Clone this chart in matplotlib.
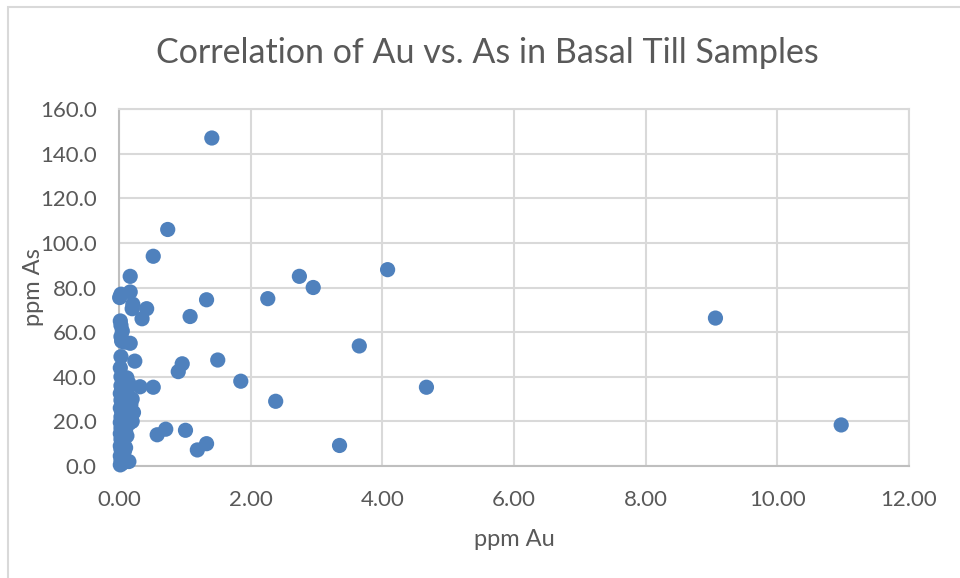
import matplotlib
matplotlib.use("Agg")
import matplotlib.pyplot as plt
from matplotlib.patches import Rectangle

# ---- data (ppm Au, ppm As) ----
au_outer = [1.41, 0.74, 0.52, 0.17, 0.17, 0.03, 0.01, 0.21, 0.20, 0.42, 0.35, 1.08,
            1.33, 2.26, 2.74, 2.95, 4.08, 9.06, 10.97, 4.67, 3.65, 3.35, 2.38, 1.85,
            1.50, 0.96, 0.90, 1.01, 1.33, 1.19, 0.71, 0.58, 0.52, 0.32, 0.24, 0.17]
as_outer = [147.0, 106.0, 94.0, 85.0, 78.0, 77.0, 75.5, 72.5, 70.5, 70.5, 66.0, 67.0,
            74.5, 75.0, 85.0, 80.0, 88.0, 66.3, 18.4, 35.3, 53.8, 9.2, 29.0, 38.0,
            47.5, 45.8, 42.3, 16.0, 10.0, 7.2, 16.5, 14.0, 35.3, 35.5, 47.0, 55.0]

au_cluster = [0.02, 0.05, 0.03, 0.15, 0.06, 0.02, 0.04, 0.08, 0.03, 0.10, 0.02, 0.05,
              0.07, 0.03, 0.12, 0.04, 0.02, 0.10, 0.06, 0.03, 0.08, 0.15, 0.02, 0.05,
              0.20, 0.10, 0.03, 0.17, 0.07, 0.22, 0.04, 0.12, 0.02, 0.08, 0.18, 0.05,
              0.03, 0.20, 0.10, 0.06, 0.02, 0.12, 0.04, 0.08, 0.03, 0.15, 0.06, 0.12,
              0.03, 0.02, 0.03, 0.04, 0.08, 0.03, 0.05, 0.03, 0.02]
as_cluster = [0.5, 1.2, 2.5, 2.0, 3.5, 4.5, 5.5, 6.5, 7.5, 8.2, 9.0, 10.0,
              11.0, 12.0, 13.5, 13.0, 14.5, 15.5, 16.0, 17.0, 18.0, 19.0, 19.5, 20.5,
              20.0, 21.0, 22.0, 22.5, 23.0, 24.0, 24.5, 25.5, 26.0, 27.0, 27.5, 28.5,
              29.5, 30.0, 30.5, 31.5, 32.5, 33.0, 34.0, 35.0, 36.0, 37.0, 38.0, 39.5,
              40.0, 44.0, 49.0, 56.0, 55.5, 58.0, 60.5, 63.0, 65.0]

x_ticks = [0, 2, 4, 6, 8, 10, 12]
y_ticks = [0, 20, 40, 60, 80, 100, 120, 140, 160]

title = "Correlation of Au vs. As in Basal Till Samples"
x_label = "ppm Au"
y_label = "ppm As"

# ---- style ----
plt.rcParams['font.family'] = ['Lato', 'DejaVu Sans']
text_col = "#595959"
grid_col = "#d9d9d9"
axis_col = "#bfbfbf"
dot_col = "#4f81bd"

fig = plt.figure(figsize=(9.6, 5.78), dpi=100)
fig.patch.set_facecolor("white")
fig.patches.append(Rectangle((8 / 960, -0.1), 1.2, 1.1 - 7 / 578,
                             transform=fig.transFigure, fill=False,
                             edgecolor=grid_col, linewidth=1.5))

ax = fig.add_axes([119 / 960, 1 - 466 / 578, (909 - 119) / 960, (466 - 109) / 578])
ax.scatter(au_outer + au_cluster, as_outer + as_cluster, s=120, color=dot_col,
           edgecolors='none', zorder=3, clip_on=False)

ax.set_xlim(0, 12)
ax.set_ylim(0, 160)
ax.set_xticks(x_ticks)
ax.set_yticks(y_ticks)
ax.set_xticklabels([f"{v:.2f}" for v in x_ticks])
ax.set_yticklabels([f"{v:.1f}" for v in y_ticks])
ax.grid(True, color=grid_col, linewidth=1.5, zorder=0)
ax.set_axisbelow(True)
for side in ["top", "right"]:
    ax.spines[side].set_color(grid_col)
    ax.spines[side].set_linewidth(1.5)
for side in ["left", "bottom"]:
    ax.spines[side].set_color(axis_col)
    ax.spines[side].set_linewidth(1.5)
ax.tick_params(axis='both', length=0, labelsize=16, labelcolor=text_col)
ax.tick_params(axis='y', pad=16)
ax.tick_params(axis='x', pad=17)

ax.set_xlabel(x_label, fontsize=17, color=text_col, labelpad=14)
ax.set_ylabel(y_label, fontsize=17, color=text_col, labelpad=-3)

fig.text(487 / 960, 1 - 53 / 578, title, ha='center', va='center',
         fontsize=24.5, color=text_col)

fig.savefig("out.png", dpi=100)
